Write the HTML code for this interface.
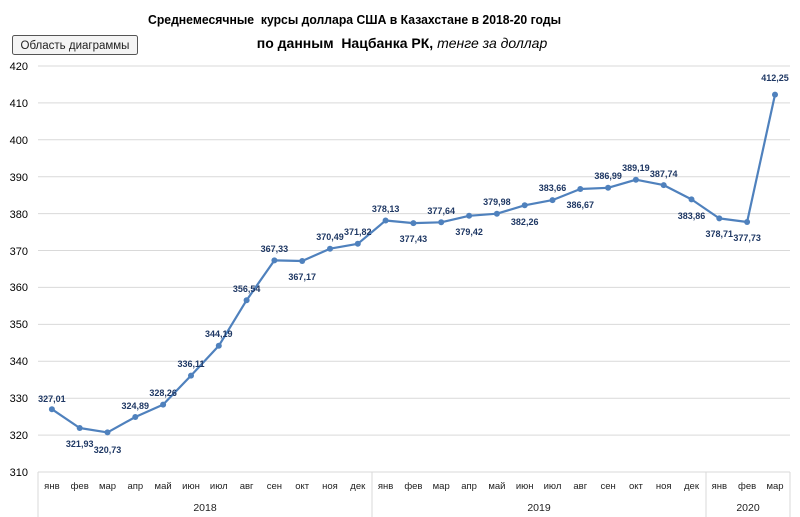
<!DOCTYPE html><html><head><meta charset="utf-8"><style>body{margin:0;background:#fff}svg{display:block;font-family:"Liberation Sans",sans-serif}.pre{white-space:pre}</style></head><body>
<svg width="800" height="517" xmlns="http://www.w3.org/2000/svg">
<rect width="800" height="517" fill="#fff"/>
<text class="pre" x="148" y="24" font-size="13" font-weight="bold" textLength="413" lengthAdjust="spacingAndGlyphs" fill="#000">Среднемесячные  курсы доллара США в Казахстане в 2018-20 годы</text>
<text class="pre" x="402" y="48" font-size="14" text-anchor="middle" fill="#000"><tspan font-weight="bold">по данным  Нацбанка РК, </tspan><tspan font-style="italic">тенге за доллар</tspan></text>
<rect x="12.5" y="35.5" width="125" height="19" rx="2" fill="#f4f4f4" stroke="#555"/>
<text x="75" y="49" font-size="11.5" text-anchor="middle" fill="#222">Область диаграммы</text>
<g stroke="#d9d9d9" stroke-width="1">
<line x1="38" x2="790" y1="66" y2="66"/><line x1="38" x2="790" y1="102.9" y2="102.9"/><line x1="38" x2="790" y1="139.8" y2="139.8"/><line x1="38" x2="790" y1="176.7" y2="176.7"/><line x1="38" x2="790" y1="213.6" y2="213.6"/><line x1="38" x2="790" y1="250.5" y2="250.5"/><line x1="38" x2="790" y1="287.4" y2="287.4"/><line x1="38" x2="790" y1="324.4" y2="324.4"/><line x1="38" x2="790" y1="361.3" y2="361.3"/><line x1="38" x2="790" y1="398.2" y2="398.2"/><line x1="38" x2="790" y1="435.1" y2="435.1"/><line x1="38" x2="790" y1="472" y2="472"/>
<line x1="38" x2="38" y1="472" y2="517"/><line x1="372" x2="372" y1="472" y2="517"/><line x1="706" x2="706" y1="472" y2="517"/><line x1="790" x2="790" y1="472" y2="517"/>
</g>
<g font-size="11" fill="#000" text-anchor="end">
<text x="28" y="70">420</text><text x="28" y="107">410</text><text x="28" y="144">400</text><text x="28" y="181">390</text><text x="28" y="218">380</text><text x="28" y="255">370</text><text x="28" y="291">360</text><text x="28" y="328">350</text><text x="28" y="365">340</text><text x="28" y="402">330</text><text x="28" y="439">320</text><text x="28" y="476">310</text>
</g>
<g font-size="9.5" fill="#222" text-anchor="middle">
<text x="51.9" y="489">янв</text><text x="79.7" y="489">фев</text><text x="107.5" y="489">мар</text><text x="135.3" y="489">апр</text><text x="163.1" y="489">май</text><text x="191" y="489">июн</text><text x="218.8" y="489">июл</text><text x="246.6" y="489">авг</text><text x="274.4" y="489">сен</text><text x="302.2" y="489">окт</text><text x="330" y="489">ноя</text><text x="357.8" y="489">дек</text>
<text x="385.6" y="489">янв</text><text x="413.4" y="489">фев</text><text x="441.2" y="489">мар</text><text x="469.1" y="489">апр</text><text x="496.9" y="489">май</text><text x="524.7" y="489">июн</text><text x="552.5" y="489">июл</text><text x="580.3" y="489">авг</text><text x="608.1" y="489">сен</text><text x="635.9" y="489">окт</text><text x="663.7" y="489">ноя</text><text x="691.5" y="489">дек</text>
<text x="719.3" y="489">янв</text><text x="747.1" y="489">фев</text><text x="775" y="489">мар</text>
<text x="205" y="511" font-size="10.5">2018</text><text x="539" y="511" font-size="10.5">2019</text><text x="748" y="511" font-size="10.5">2020</text>
</g>
<polyline fill="none" stroke="#4f81bd" stroke-width="2.2" stroke-linejoin="round" points="51.9,409.2 79.7,428 107.5,432.4 135.3,417 163.1,404.6 191,375.6 218.8,345.8 246.6,300.2 274.4,260.4 302.2,261 330,248.7 357.8,243.8 385.6,220.5 413.4,223.1 441.2,222.3 469.1,215.8 496.9,213.7 524.7,205.3 552.5,200.1 580.3,189 608.1,187.8 635.9,179.7 663.7,185.1 691.5,199.4 719.3,218.4 747.1,222 775,94.6"/>
<g fill="#4f81bd">
<circle cx="51.9" cy="409.2" r="3"/><circle cx="79.7" cy="428" r="3"/><circle cx="107.5" cy="432.4" r="3"/><circle cx="135.3" cy="417" r="3"/><circle cx="163.1" cy="404.6" r="3"/><circle cx="191" cy="375.6" r="3"/><circle cx="218.8" cy="345.8" r="3"/><circle cx="246.6" cy="300.2" r="3"/><circle cx="274.4" cy="260.4" r="3"/><circle cx="302.2" cy="261" r="3"/><circle cx="330" cy="248.7" r="3"/><circle cx="357.8" cy="243.8" r="3"/><circle cx="385.6" cy="220.5" r="3"/><circle cx="413.4" cy="223.1" r="3"/><circle cx="441.2" cy="222.3" r="3"/><circle cx="469.1" cy="215.8" r="3"/><circle cx="496.9" cy="213.7" r="3"/><circle cx="524.7" cy="205.3" r="3"/><circle cx="552.5" cy="200.1" r="3"/><circle cx="580.3" cy="189" r="3"/><circle cx="608.1" cy="187.8" r="3"/><circle cx="635.9" cy="179.7" r="3"/><circle cx="663.7" cy="185.1" r="3"/><circle cx="691.5" cy="199.4" r="3"/><circle cx="719.3" cy="218.4" r="3"/><circle cx="747.1" cy="222" r="3"/><circle cx="775" cy="94.6" r="3"/>
</g>
<g font-size="9" font-weight="bold" fill="#1f3864" text-anchor="middle">
<text x="51.9" y="402">327,01</text><text x="79.7" y="447">321,93</text><text x="107.5" y="453">320,73</text><text x="135.3" y="409">324,89</text><text x="163.1" y="396">328,26</text><text x="191" y="367">336,11</text><text x="218.8" y="337">344,19</text><text x="246.6" y="292">356,54</text><text x="274.4" y="252">367,33</text><text x="302.2" y="280">367,17</text><text x="330" y="240">370,49</text><text x="357.8" y="235">371,82</text>
<text x="385.6" y="212">378,13</text><text x="413.4" y="242">377,43</text><text x="441.2" y="214">377,64</text><text x="469.1" y="235">379,42</text><text x="496.9" y="205">379,98</text><text x="524.7" y="225">382,26</text><text x="552.5" y="191">383,66</text><text x="580.3" y="208">386,67</text><text x="608.1" y="179">386,99</text><text x="635.9" y="171">389,19</text><text x="663.7" y="177">387,74</text><text x="691.5" y="219">383,86</text>
<text x="719.3" y="237">378,71</text><text x="747.1" y="241">377,73</text><text x="775" y="81">412,25</text>
</g>
</svg>
</body></html>
